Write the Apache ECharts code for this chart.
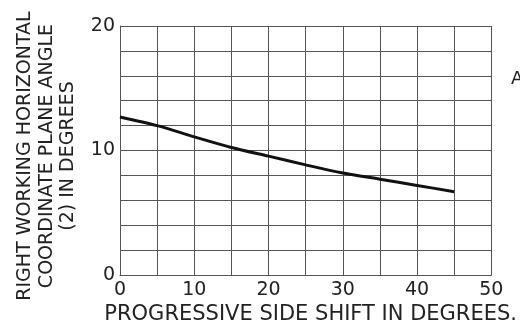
<!DOCTYPE html>
<html>
<head>
<meta charset="utf-8">
<script src="https://cdn.jsdelivr.net/npm/echarts@6/dist/echarts.min.js"></script>
<style>
html,body{margin:0;padding:0;background:#fff;}
#c{width:520px;height:330px;}
</style>
</head>
<body>
<div id="c"></div>
<script>
// Data
const shiftDeg = [0, 5, 10, 15, 20, 25, 30, 35, 40, 45];
const angleDeg = [12.7, 12.0, 11.1, 10.25, 9.55, 8.85, 8.2, 7.7, 7.2, 6.7];
const xTickLabels = [0, 10, 20, 30, 40, 50];
const yTickLabels = [0, 10, 20];
const xTitle = 'PROGRESSIVE SIDE SHIFT IN DEGREES.';
const yTitleLines = ['RIGHT WORKING HORIZONTAL', 'COORDINATE PLANE ANGLE', '(2) IN DEGREES'];

const FONT = '"DejaVu Sans", sans-serif';
const chart = echarts.init(document.getElementById('c'), null, {renderer: 'canvas'});
const gridColor = '#555';

chart.setOption({
  backgroundColor: '#fff',
  animation: false,
  grid: {left: 120, right: 27, top: 26, bottom: 46, containLabel: false},
  xAxis: {
    type: 'value', min: 0, max: 50, interval: 5,
    axisLine: {show: true, lineStyle: {color: gridColor, width: 1}},
    axisTick: {show: false},
    splitLine: {show: true, lineStyle: {color: gridColor, width: 1}},
    axisLabel: {
      color: '#222', fontFamily: FONT, fontSize: 19, margin: 5,
      formatter: v => xTickLabels.indexOf(v) >= 0 ? String(v) : ''
    },
    name: xTitle, nameLocation: 'middle', nameGap: 26,
    nameTextStyle: {color: '#222', fontFamily: FONT, fontSize: 21, padding: [0, 0, 0, 10]}
  },
  yAxis: {
    type: 'value', min: 0, max: 20, interval: 2,
    axisLine: {show: true, lineStyle: {color: gridColor, width: 1}},
    axisTick: {show: false},
    splitLine: {show: true, lineStyle: {color: gridColor, width: 1}},
    axisLabel: {
      color: '#222', fontFamily: FONT, fontSize: 19, margin: 5,
      formatter: v => yTickLabels.indexOf(v) >= 0 ? String(v) : ''
    }
  },
  graphic: [
    {
      type: 'text', x: 47, y: 156, rotation: Math.PI / 2,
      style: {
        text: yTitleLines.join('\n'), fill: '#222', font: '19px ' + FONT,
        align: 'center', verticalAlign: 'middle', lineHeight: 21.5
      }
    },
    {
      type: 'text', x: 511, y: 79,
      style: {text: 'A', fill: '#222', font: '18px ' + FONT, align: 'left', verticalAlign: 'middle'}
    }
  ],
  series: [{
    type: 'line',
    data: shiftDeg.map((x, i) => [x, angleDeg[i]]),
    smooth: 0.3,
    showSymbol: false,
    lineStyle: {color: '#111', width: 3}
  }]
});
</script>
</body>
</html>
